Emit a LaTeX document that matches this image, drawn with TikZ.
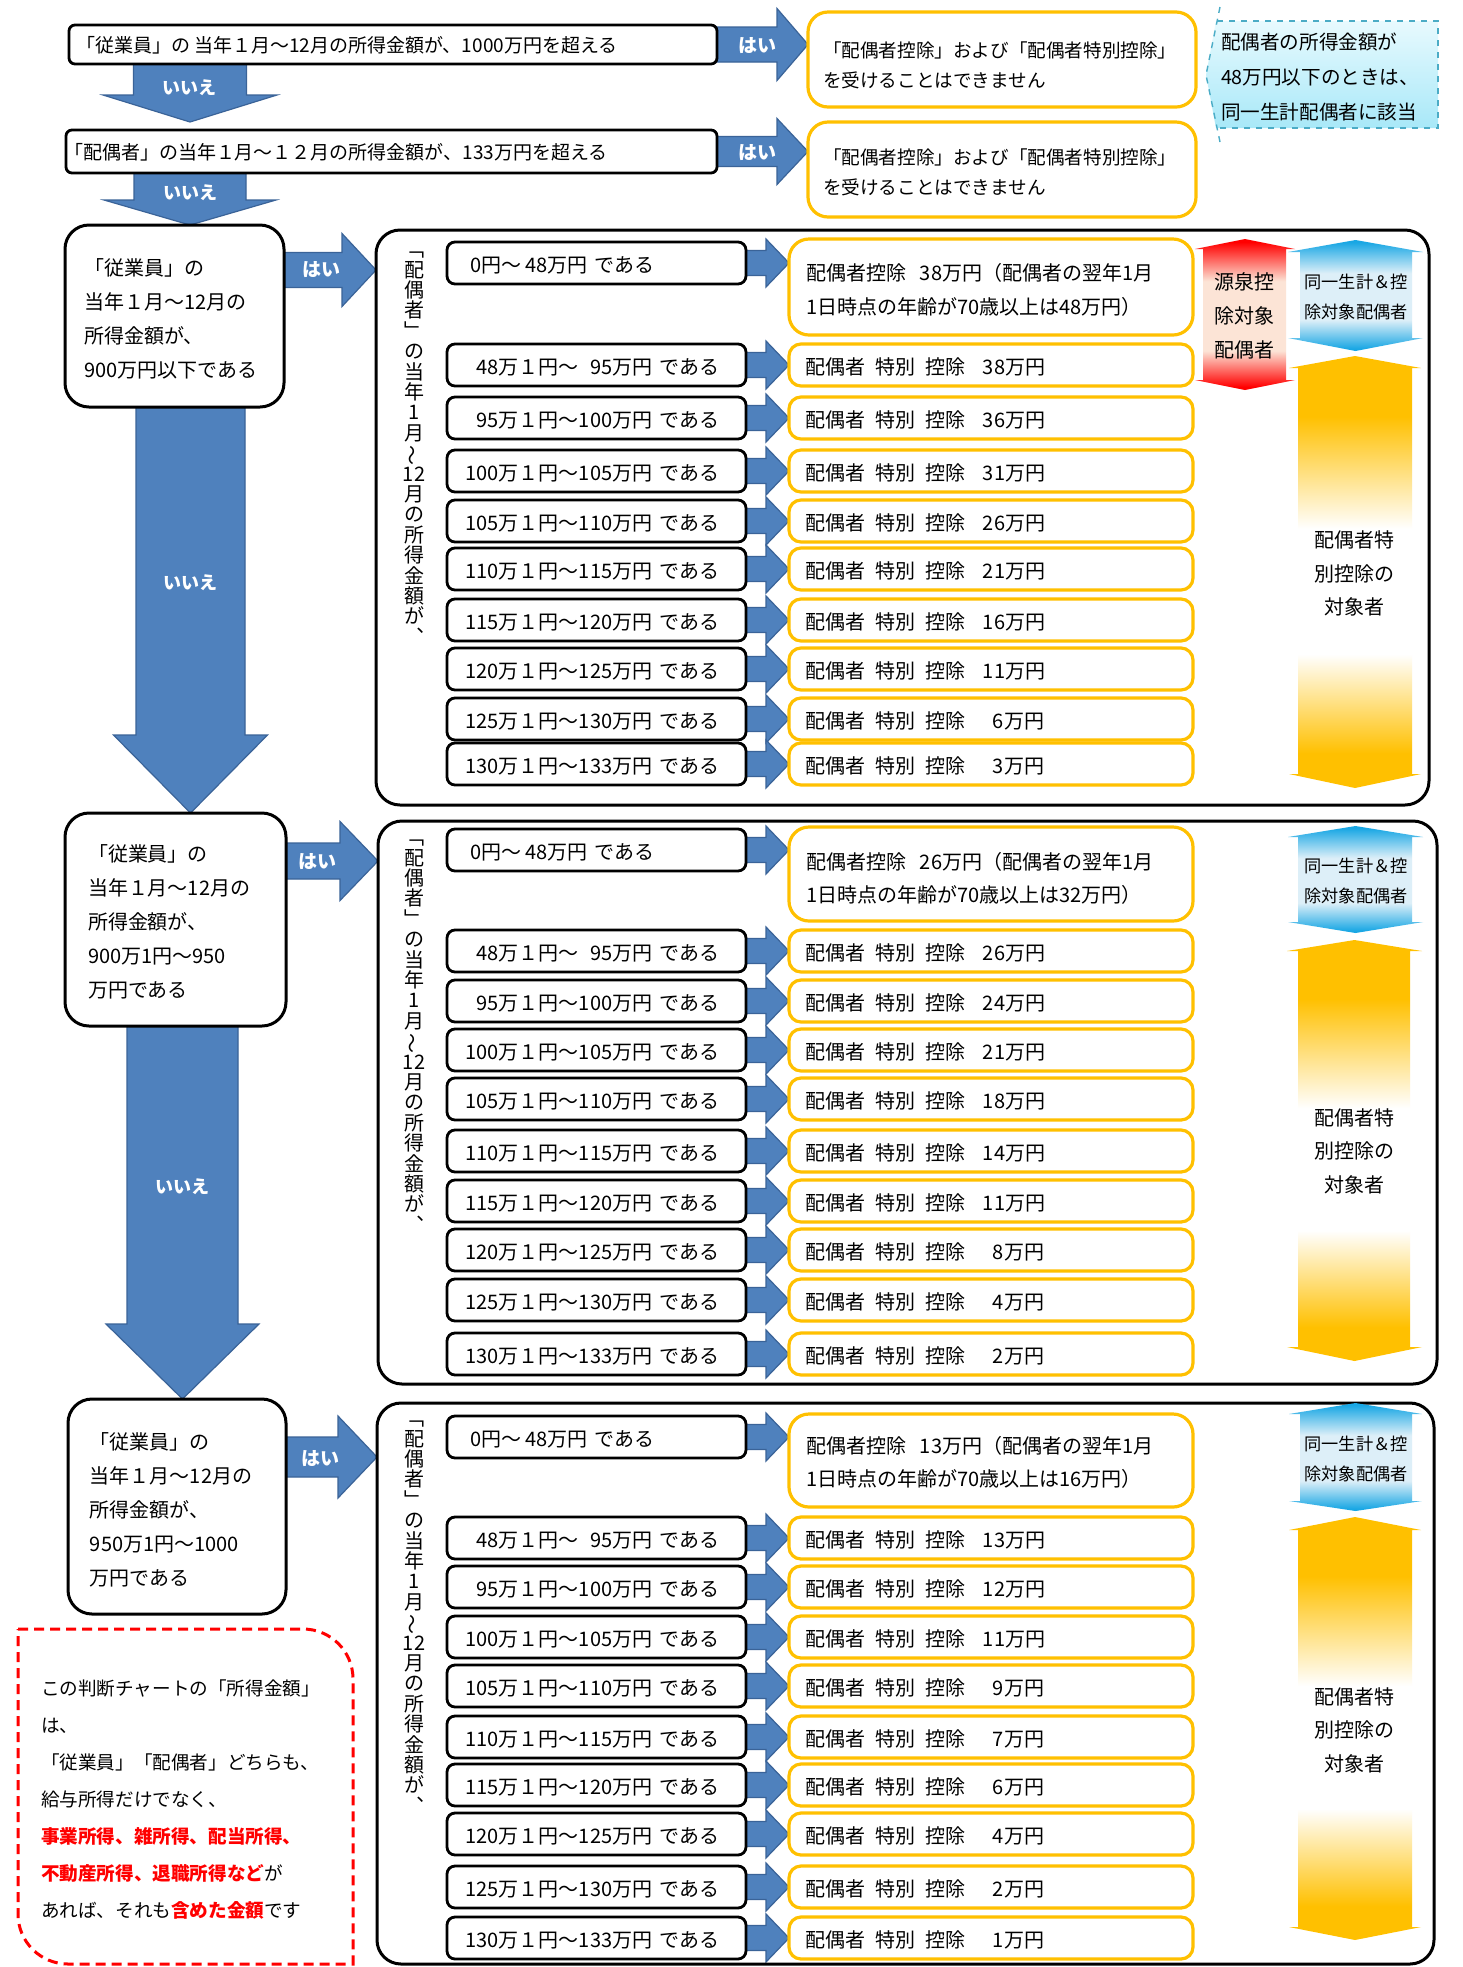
\documentclass[tikz,border=0pt]{standalone}
\usepackage{fontspec}
\setmainfont{Noto Sans CJK JP}
\usepackage{graphicx}
\usetikzlibrary{calc}
\definecolor{myblue}{HTML}{4F81BD}
\definecolor{myblueb}{HTML}{3A6398}
\definecolor{myyel}{HTML}{FFC000}
\definecolor{myred}{HTML}{FF0000}
\definecolor{peach}{HTML}{FCE4D6}
\definecolor{cyanA}{HTML}{19A7E4}
\definecolor{cyanP}{HTML}{DDEFF8}
\definecolor{callb}{HTML}{4BACC6}
\definecolor{callt}{HTML}{E8FAFE}
\definecolor{callbot}{HTML}{A8E8F8}
\pgfdeclarelayer{bg}
\pgfsetlayers{bg,main}
\pgfdeclareverticalshading{yelsh}{100bp}{color(0bp)=(myyel); color(29bp)=(myyel); color(40.5bp)=(white); color(55bp)=(white); color(68bp)=(myyel); color(100bp)=(myyel)}
\pgfdeclareverticalshading{redsh}{100bp}{color(0bp)=(myred); color(26bp)=(myred); color(38bp)=(peach); color(61bp)=(peach); color(74bp)=(myred); color(100bp)=(myred)}
\pgfdeclareverticalshading{cyansh}{100bp}{color(0bp)=(cyanA); color(26bp)=(cyanA); color(39bp)=(cyanP); color(60bp)=(cyanP); color(74bp)=(cyanA); color(100bp)=(cyanA)}
\newcommand\fsA{\fontsize{10pt}{12pt}\selectfont}
\newcommand\fsB{\fontsize{9.5pt}{12pt}\selectfont}
\newcommand\ts{\hspace{0.5em}}
\newcommand\tts{\hspace{0.9em}}
\newcommand\sps{\hspace{0.35em}}
\newcommand\vlab{﹁\\配\\偶\\者\\﹂\\の\\当\\年\\1\\月\\\rotatebox[origin=c]{90}{～}\\12\\月\\の\\所\\得\\金\\額\\が\\︑}
\newcommand\udarr[9]{%
  \shade[shading=#1] ({(#2+#3)/2},#6) -- (#3,#7) -- (#5,#7) -- (#5,#8) -- (#3,#8) -- ({(#2+#3)/2},#9) -- (#2,#8) -- (#4,#8) -- (#4,#7) -- (#2,#7) -- cycle;}
\tikzset{
  rblk/.style n args={3}{to path={let \p1=(\tikztostart), \p2=(\tikztotarget) in
    (\x1,\y1+#1) -- (\x2-#3,\y1+#1) -- (\x2-#3,\y1+#2) -- (\x2,\y1) -- (\x2-#3,\y1-#2) -- (\x2-#3,\y1-#1) -- (\x1,\y1-#1) -- cycle}},
  dblk/.style n args={3}{to path={let \p1=(\tikztostart), \p2=(\tikztotarget) in
    (\x1-#1,\y1) -- (\x1-#1,\y2+#3) -- (\x1-#2,\y2+#3) -- (\x1,\y2) -- (\x1+#2,\y2+#3) -- (\x1+#1,\y2+#3) -- (\x1+#1,\y1) -- cycle}},
  blackbox/.style={draw=black, line width=1.4pt, fill=white},
  rbox/.style={blackbox, rounded corners=4pt, minimum width=149.5pt, minimum height=21pt},
  ybox/.style={draw=myyel, line width=1.6pt, fill=white, rounded corners=6pt, minimum width=202pt, minimum height=21pt},
  y0box/.style={draw=myyel, line width=1.6pt, fill=white, rounded corners=10pt, minimum width=202pt},
  qbox/.style={blackbox, line width=1.5pt, rounded corners=12pt},
  cont/.style={draw=black, line width=1.5pt, rounded corners=12pt},
  blk/.style={fill=myblue, draw=myblueb, line width=0.6pt},
  tx/.style={anchor=west, font=\fsA},
  yeslab/.style={text=white, font=\bfseries\fontsize{9.5pt}{11pt}\selectfont},
  nolab/.style={text=white, font=\bfseries\fontsize{9pt}{11pt}\selectfont},
  vtxt/.style={anchor=north, align=center, font={\fontsize{10pt}{10.2pt}\selectfont\lineskiplimit=-10pt}},
}
\newcommand\mkrows[2]{%
  \foreach \i/\yc/\lab/\val in {#2} {%
    \node[rbox] (#1r\i) at (596.5,\yc) {};
    \node[tx, anchor=east] (#1rt\i) at (719,\yc+2) {\lab\sps である};
    \node[ybox] (#1y\i) at (991,\yc) {};
    \node[tx] (#1yt\i) at (805,\yc+2) {配偶者\ts 特別\ts 控除\tts\val 万円};
    \begin{pgfonlayer}{bg}
      \draw[blk, rblk={6.25pt}{12pt}{11.5pt}] (#1r\i.east) to (#1y\i.west);
    \end{pgfonlayer}
  }}
\begin{document}
\begin{tikzpicture}[x=0.5pt,y=-0.5pt, every node/.style={inner sep=0pt, outer sep=0pt}]
\useasboundingbox (0,0) rectangle (1463,1967);
\begin{pgfonlayer}{bg}\fill[white] (0,0) rectangle (1463,1967);\end{pgfonlayer}

% ---------- top part ----------
\node[blackbox, rounded corners=3pt, minimum width=324pt, minimum height=19.5pt] (box1) at (393,44.5) {};
\node[tx, font=\fsB] (box1t) at (76,45) {「従業員」の 当年１月～12月の所得金額が、1000万円を超える};
\node[blackbox, rounded corners=3pt, minimum width=325.5pt, minimum height=21.5pt] (box2) at (391.5,151.5) {};
\node[tx, font=\fsB] (box2t) at (64,152) {「配偶者」の当年１月～１２月の所得金額が、133万円を超える};

\node[draw=myyel, line width=1.6pt, fill=white, rounded corners=10pt, minimum width=194pt, minimum height=47.5pt] (a1) at (1002,59.5) {};
\node[anchor=west, align=left, font=\fontsize{9.3pt}{15pt}\selectfont] (a1t) at (823,65) {「配偶者控除」および「配偶者特別控除」\\を受けることはできません};
\node[draw=myyel, line width=1.6pt, fill=white, rounded corners=10pt, minimum width=194pt, minimum height=47.5pt] (a2) at (1002,169.5) {};
\node[anchor=west, align=left, font=\fontsize{9.3pt}{15pt}\selectfont] (a2t) at (823,172.5) {「配偶者控除」および「配偶者特別控除」\\を受けることはできません};

% callout
\shade[top color=callt, bottom color=callbot] (1216,21) -- (1438,21) -- (1438,128) -- (1216,128) -- (1206,75) -- cycle;
\draw[callb, dashed, line width=0.7pt] (1220,7) -- (1206,75) -- (1220,142);
\draw[callb, dashed, line width=0.7pt] (1217,21) -- (1438,21) -- (1438,128) -- (1217,128);
\node[anchor=west, align=left, font=\fontsize{9.8pt}{17.5pt}\selectfont] (callout) at (1221,77) {配偶者の所得金額が\\48万円以下のときは、\\同一生計配偶者に該当};

% ---------- question boxes ----------
\node[qbox, minimum width=109.5pt, minimum height=91pt] (q1) at (174.5,316) {};
\node[anchor=west, align=left, font=\fontsize{10pt}{17pt}\selectfont] (q1t) at (84,318.5) {「従業員」の\\当年１月～12月の\\所得金額が、\\900万円以下である};
\node[qbox, minimum width=110.5pt, minimum height=106.5pt] (q2) at (175.5,919.5) {};
\node[anchor=west, align=left, font=\fontsize{10pt}{17pt}\selectfont] (q2t) at (88,921.5) {「従業員」の\\当年１月～12月の\\所得金額が、\\900万1円～950\\万円である};
\node[qbox, minimum width=109pt, minimum height=107.5pt] (q3) at (177,1506.5) {};
\node[anchor=west, align=left, font=\fontsize{10pt}{17pt}\selectfont] (q3t) at (90,1509.5) {「従業員」の\\当年１月～12月の\\所得金額が、\\950万1円～1000\\万円である};

% ---------- containers ----------
\node[cont, minimum width=526.5pt, minimum height=287.5pt] (b1) at (902.5,517.5) {};
\node[cont, minimum width=529.5pt, minimum height=281.5pt] (b2) at (907.5,1102.5) {};
\node[cont, minimum width=528.5pt, minimum height=280.5pt] (b3) at (905.5,1683.5) {};

\node[vtxt] (v1) at (414,252) {\vlab};
\node[vtxt] (v2) at (414,840) {\vlab};
\node[vtxt] (v3) at (414,1421) {\vlab};

% ---------- section 1 ----------
\node[rbox] (s1r0) at (596.5,263) {};
\node[tx] (s1rt0) at (470,265) {0円～ 48万円\sps である};
\node[y0box, minimum height=48pt] (s1y0) at (991,287) {};
\node[anchor=west, align=left, font=\fontsize{10pt}{17pt}\selectfont] (s1yt0) at (806,290) {配偶者控除\hspace{0.7em}38万円（配偶者の翌年1月\\1日時点の年齢が70歳以上は48万円）};
\begin{pgfonlayer}{bg}\draw[blk, rblk={6.25pt}{12pt}{11.5pt}] (s1r0.east) to (s1y0.west);\end{pgfonlayer}
\mkrows{s1}{1/365/{48万１円～\phantom{0}95万円}/38,2/418/{95万１円～100万円}/36,3/471/{100万１円～105万円}/31,4/521/{105万１円～110万円}/26,5/569/{110万１円～115万円}/21,6/620/{115万１円～120万円}/16,7/669/{120万１円～125万円}/11,8/719/{125万１円～130万円}/{\hspace{5pt}6},9/764/{130万１円～133万円}/{\hspace{5pt}3}}

% ---------- section 2 ----------
\node[rbox] (s2r0) at (596.5,850) {};
\node[tx] (s2rt0) at (470,852) {0円～ 48万円\sps である};
\node[y0box, minimum height=47pt] (s2y0) at (991,874) {};
\node[anchor=west, align=left, font=\fontsize{10pt}{16.75pt}\selectfont] (s2yt0) at (806,878.5) {配偶者控除\hspace{0.7em}26万円（配偶者の翌年1月\\1日時点の年齢が70歳以上は32万円）};
\begin{pgfonlayer}{bg}\draw[blk, rblk={6.25pt}{12pt}{11.5pt}] (s2r0.east) to (s2y0.west);\end{pgfonlayer}
\mkrows{s2}{1/951/{48万１円～\phantom{0}95万円}/26,2/1001/{95万１円～100万円}/24,3/1050/{100万１円～105万円}/21,4/1099/{105万１円～110万円}/18,5/1151/{110万１円～115万円}/14,6/1201/{115万１円～120万円}/11,7/1250/{120万１円～125万円}/{\hspace{5pt}8},8/1300/{125万１円～130万円}/{\hspace{5pt}4},9/1354/{130万１円～133万円}/{\hspace{5pt}2}}

% ---------- section 3 ----------
\node[rbox] (s3r0) at (596.5,1437) {};
\node[tx] (s3rt0) at (470,1439) {0円～ 48万円\sps である};
\node[y0box, minimum height=46.5pt] (s3y0) at (991,1460.5) {};
\node[anchor=west, align=left, font=\fontsize{10pt}{16.75pt}\selectfont] (s3yt0) at (806,1462.5) {配偶者控除\hspace{0.7em}13万円（配偶者の翌年1月\\1日時点の年齢が70歳以上は16万円）};
\begin{pgfonlayer}{bg}\draw[blk, rblk={6.25pt}{12pt}{11.5pt}] (s3r0.east) to (s3y0.west);\end{pgfonlayer}
\mkrows{s3}{1/1538/{48万１円～\phantom{0}95万円}/13,2/1587/{95万１円～100万円}/12,3/1637/{100万１円～105万円}/11,4/1686/{105万１円～110万円}/{\hspace{5pt}9},5/1737/{110万１円～115万円}/{\hspace{5pt}7},6/1785/{115万１円～120万円}/{\hspace{5pt}6},7/1834/{120万１円～125万円}/{\hspace{5pt}4},8/1887/{125万１円～130万円}/{\hspace{5pt}2},9/1938/{130万１円～133万円}/{\hspace{5pt}1}}

% ---------- gradient up-down arrows ----------
\udarr{redsh}{1195}{1295}{1203}{1286}{239}{249}{380}{390}
\node[align=center, font=\fontsize{10pt}{17pt}\selectfont] (s1red) at (1244,316) {源泉控\\除対象\\配偶者};
\udarr{cyansh}{1288}{1423}{1300}{1412}{240}{252}{338}{351}
\node[align=center, font=\fontsize{8.6pt}{15pt}\selectfont] (s1cyan) at (1356,297) {同一生計＆控\\除対象配偶者};
\udarr{yelsh}{1289}{1421}{1298}{1412}{356}{368}{774}{788}
\node[align=center, font=\fontsize{10pt}{16.75pt}\selectfont] (s1gold) at (1354,573.5) {配偶者特\\別控除の\\対象者};

\udarr{cyansh}{1288}{1423}{1298}{1412}{826}{837}{922}{933}
\node[align=center, font=\fontsize{8.6pt}{15pt}\selectfont] (s2cyan) at (1356,880.5) {同一生計＆控\\除対象配偶者};
\udarr{yelsh}{1287}{1422}{1298}{1410}{940}{951}{1347}{1361}
\node[align=center, font=\fontsize{10pt}{16.75pt}\selectfont] (s2gold) at (1354,1151) {配偶者特\\別控除の\\対象者};

\udarr{cyansh}{1289}{1422}{1300}{1412}{1403}{1414}{1501}{1511}
\node[align=center, font=\fontsize{8.6pt}{15pt}\selectfont] (s3cyan) at (1356,1459) {同一生計＆控\\除対象配偶者};
\udarr{yelsh}{1289}{1421}{1298}{1412}{1517}{1530}{1927}{1940}
\node[align=center, font=\fontsize{10pt}{16.75pt}\selectfont] (s3gold) at (1354,1730) {配偶者特\\別控除の\\対象者};

% ---------- red note ----------
\draw[myred, dash pattern=on 5pt off 3pt, line width=1.5pt] (18,1629) -- (303,1629) to[out=0,in=90] (353,1679) -- (353,1964) -- (68,1964) to[out=180,in=270] (18,1914) -- cycle;
\node[anchor=west, align=left, font=\fontsize{9.3pt}{18.5pt}\selectfont] (notet) at (41,1799.5) {この判断チャートの「所得金額」\\は、\\「従業員」「配偶者」どちらも、\\給与所得だけでなく、\\{\color{myred}\bfseries 事業所得、雑所得、配当所得、}\\{\color{myred}\bfseries 不動産所得、退職所得など}が\\あれば、それも{\color{myred}\bfseries 含めた金額}です};

% ---------- block arrows (connectors) ----------
\coordinate (t1) at (190,122);
\begin{pgfonlayer}{bg}
\draw[blk, rblk={8.75pt}{18pt}{15.5pt}] (box1.east) to (a1.west);
\draw[blk, rblk={7.5pt}{16.5pt}{15.5pt}] (box2.east) to (a2.west);
\draw[blk, dblk={28.25pt}{43.5pt}{13.5pt}] (190,0 |- box1.south) to (t1);
\draw[blk, dblk={28pt}{43pt}{12.5pt}] (190,0 |- box2.south) to (q1.north);
\draw[blk, rblk={8.75pt}{18.25pt}{17pt}] (q1.east |- 0,270) to (b1.west);
\draw[blk, dblk={27.25pt}{38.5pt}{39pt}] (190.5,0 |- q1.south) to (q2.north);
\draw[blk, rblk={9pt}{19.75pt}{19pt}] (q2.east |- 0,861) to (b2.west);
\draw[blk, dblk={27.75pt}{38.25pt}{37.5pt}] (182.5,0 |- q2.south) to (q3.north);
\draw[blk, rblk={10pt}{20.5pt}{19.5pt}] (q3.east |- 0,1457) to (b3.west);
\end{pgfonlayer}
\node[yeslab] (yes1) at (757,46) {はい};
\node[yeslab] (yes2) at (757,153) {はい};
\node[yeslab] (yes3) at (321,270) {はい};
\node[yeslab] (yes4) at (317,862) {はい};
\node[yeslab] (yes5) at (320,1459) {はい};
\node[nolab] (no1) at (189,88) {いいえ};
\node[nolab] (no2) at (190,193) {いいえ};
\node[nolab] (no3) at (190,583) {いいえ};
\node[nolab] (no4) at (182,1187) {いいえ};
\end{tikzpicture}
\end{document}
